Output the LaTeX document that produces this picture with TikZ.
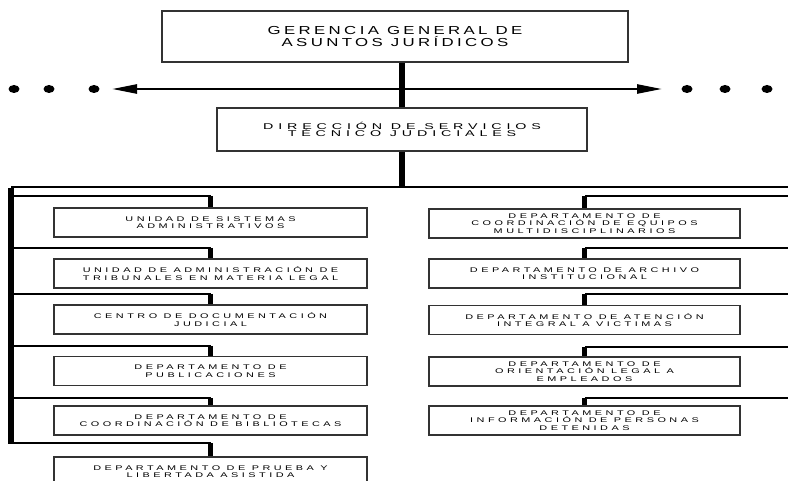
\documentclass[tikz,border=0pt]{standalone}
\usepackage{fontspec}
\usepackage{graphicx}
\setmainfont{Liberation Sans}
\newfontfamily\headfont[LetterSpace=20]{Liberation Sans}
\newfontfamily\subfont[LetterSpace=34]{Liberation Sans}
\newfontfamily\unitfont[LetterSpace=32]{Liberation Sans}
\usetikzlibrary{arrows.meta}

% centred rows (separated by \cr) with a fixed pitch, widened horizontally
\newcommand\cstack[4]{%
  \scalebox{#1}[1]{\vbox{#2\baselineskip=#3\lineskiplimit=-100pt\lineskip=0pt
    \halign{\hfil##\hfil\cr#4\crcr}}}}
\newcommand\headtext[1]{\cstack{1.45}{\headfont\fontsize{11.6pt}{11.7pt}\selectfont}{11.7pt}{#1}}
\newcommand\subtext[1]{\cstack{1.7}{\subfont\fontsize{8.4pt}{7.6pt}\selectfont}{7.6pt}{#1}}
\newcommand\unittext[1]{\cstack{1.6}{\unitfont\fontsize{6.8pt}{7.6pt}\selectfont}{7.6pt}{#1}}

\tikzset{
  orgbox/.style={draw=black!80, line width=1.1pt, fill=white, inner sep=0pt},
  headbox/.style={orgbox, minimum width=466pt, minimum height=51pt},
  subbox/.style={orgbox, minimum width=370pt, minimum height=43pt},
  unitbox/.style={orgbox, minimum width=313pt, minimum height=29pt},
  trunk/.style={line width=5.5pt, black},
  bar/.style={line width=2pt, black},
  branch/.style={line width=2.5pt, black},
  drop/.style={line width=5.5pt, black},
  link/.style={line width=2.4pt, black},
}

\begin{document}
\begin{tikzpicture}[x=1pt, y=-1pt]
\useasboundingbox (0,0) rectangle (788,481);
\clip (0,0) rectangle (788,481);

% upper levels
\node[headbox] (gg) at (395,36.5) {\headtext{GERENCIA GENERAL DE\cr ASUNTOS JURÍDICOS}};
\node[subbox] (dst) at (402,129.5) {\subtext{DIRECCIÓN DE SERVICIOS\cr TÉCNICO JUDICIALES}};

% left column
\node[unitbox] (l1) at (210.5,222.5) {\unittext{UNIDAD DE SISTEMAS\cr ADMINISTRATIVOS}};
\node[unitbox] (l2) at (210.5,273.5) {\unittext{UNIDAD DE ADMINISTRACIÓN DE\cr TRIBUNALES EN MATERIA LEGAL}};
\node[unitbox] (l3) at (210.5,319.5) {\unittext{CENTRO DE DOCUMENTACIÓN\cr JUDICIAL}};
\node[unitbox] (l4) at (210.5,371) {\unittext{DEPARTAMENTO DE\cr PUBLICACIONES}};
\node[unitbox] (l5) at (210.5,420.5) {\unittext{DEPARTAMENTO DE\cr COORDINACIÓN DE BIBLIOTECAS}};
\node[unitbox] (l6) at (210.5,471.5) {\unittext{DEPARTAMENTO DE PRUEBA Y\cr LIBERTADA ASISTIDA}};

% right column
\node[unitbox, minimum width=311pt] (r1) at (584.5,223.5) {\unittext{DEPARTAMENTO DE\cr COORDINACIÓN DE EQUIPOS\cr MULTIDISCIPLINARIOS}};
\node[unitbox, minimum width=311pt] (r2) at (584.5,273.5) {\unittext{DEPARTAMENTO DE ARCHIVO\cr INSTITUCIONAL}};
\node[unitbox, minimum width=311pt] (r3) at (584.5,320) {\unittext{DEPARTAMENTO DE ATENCIÓN\cr INTEGRAL A VICTIMAS}};
\node[unitbox, minimum width=311pt] (r4) at (584.5,371.5) {\unittext{DEPARTAMENTO DE\cr ORIENTACIÓN LEGAL A\cr EMPLEADOS}};
\node[unitbox, minimum width=311pt] (r5) at (584.5,420.5) {\unittext{DEPARTAMENTO DE\cr INFORMACIÓN DE PERSONAS\cr DETENIDAS}};

% staff line with continuation dots
\coordinate (al) at (112,89);
\coordinate (ar) at (662,89);
\draw[link, {Triangle[length=25pt,width=9pt]}-{Triangle[length=25pt,width=9pt]}] (al) -- (ar);
\foreach \x in {14,49,94,687,725,767}
  \fill (\x,89) ellipse [x radius=5.5pt, y radius=4pt];

% main trunk
\coordinate (tj) at (gg.south -| dst.north);
\draw[trunk] (tj) -- (dst.north);
\coordinate (bj) at (dst.south |- 0,187);
\draw[trunk] (dst.south) -- (bj);

% distribution bar and side trunks
\coordinate (barL) at (11,187);
\coordinate (barR) at (800,187);
\coordinate (ltEnd) at (11,444);
\draw[bar] (barL) -- (barR);
\draw[trunk] ([yshift=-1pt]barL) -- (ltEnd);

\foreach \i/\y in {1/196,2/248,3/294,4/346,5/398,6/443}{
  \draw[branch] (barL |- 0,\y) -- (l\i.north |- 0,\y);
  \draw[drop] (l\i.north |- 0,\y) -- (l\i.north);
}
\foreach \i/\y in {1/196,2/248,3/294,4/347,5/398}{
  \draw[branch] (barR |- 0,\y) -- (r\i.north |- 0,\y);
  \draw[drop] (r\i.north |- 0,\y) -- (r\i.north);
}
\end{tikzpicture}
\end{document}
